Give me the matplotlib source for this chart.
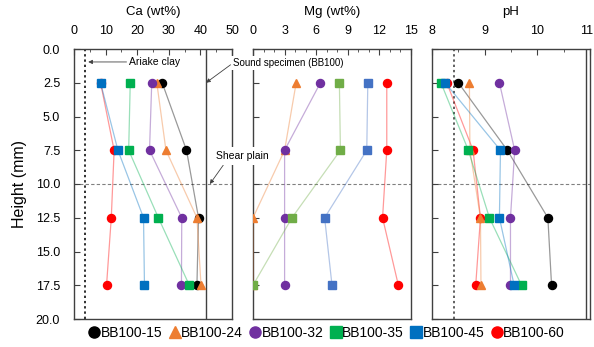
import numpy as np
import matplotlib
matplotlib.use("Agg")
import matplotlib.pyplot as plt
from matplotlib.lines import Line2D
from matplotlib.ticker import MultipleLocator, FormatStrFormatter, FuncFormatter

plt.rcParams['font.family'] = ['Liberation Sans', 'DejaVu Sans']

# depth of each slice (mm)
height = [2.5, 7.5, 12.5, 17.5]

samples = ['BB100-15', 'BB100-24', 'BB100-32', 'BB100-35', 'BB100-45', 'BB100-60']
colors = ['#000000', '#ED7D31', '#7030A0', '#00B050', '#0070C0', '#FF0000']
# the Mg panel uses a slightly different green / blue
colors_mg = ['#000000', '#ED7D31', '#7030A0', '#70AD47', '#4472C4', '#FF0000']
markers = ['o', '^', 'o', 's', 's', 'o']

# values read per sample, top to bottom
ca = {
    'BB100-15': [27.9, 35.6, 39.4, 38.9],
    'BB100-24': [26.2, 29.1, 38.9, 40.2],
    'BB100-32': [24.6, 23.9, 34.1, 34.0],
    'BB100-35': [17.8, 17.3, 26.7, 36.5],
    'BB100-45': [8.4, 13.9, 22.0, 22.3],
    'BB100-60': [8.4, 12.7, 11.8, 10.3],
}
mg = {
    'BB100-15': [np.nan, np.nan, np.nan, np.nan],
    'BB100-24': [4.1, 3.0, 0.0, 0.0],
    'BB100-32': [6.4, 3.0, 3.0, 3.0],
    'BB100-35': [8.2, 8.3, 3.7, 0.0],
    'BB100-45': [10.9, 10.8, 6.8, 7.5],
    'BB100-60': [12.7, 12.7, 12.3, 13.8],
}
ph = {
    'BB100-15': [8.50, 9.43, 10.20, 10.27],
    'BB100-24': [8.71, 8.72, 8.92, 8.93],
    'BB100-32': [9.28, 9.57, 9.49, 9.49],
    'BB100-35': [8.17, 8.69, 9.09, 9.70],
    'BB100-45': [8.25, 9.30, 9.28, 9.56],
    'BB100-60': [8.28, 8.78, 8.92, 8.83],
}

# reference lines
ariake_ca, ariake_ph = 3.5, 8.42
sound_ca, sound_ph = 41.8, 10.93
shear_plane = 10.0

W, H = 594, 347
fig = plt.figure(figsize=(W / 100, H / 100), dpi=100)

ax_w = 158 / W
ax_b = 1 - 319 / H
ax_h = (319 - 49) / H
ax_ca = fig.add_axes([74 / W, ax_b, ax_w, ax_h])
ax_mg = fig.add_axes([253 / W, ax_b, ax_w, ax_h])
ax_ph = fig.add_axes([432 / W, ax_b, ax_w, ax_h])
ax_ca.set_zorder(3)

panels = [
    (ax_ca, ca, colors, (0, 50), 10, 5, 'Ca (wt%)'),
    (ax_mg, mg, colors_mg, (0, 15), 3, 1, 'Mg (wt%)'),
    (ax_ph, ph, colors, (8, 11), 1, 0.5, 'pH'),
]
zorders = [4, 5, 6, 7, 8, 3]

for i, (ax, data, cols, xlim, major, minor, title) in enumerate(panels):
    for s, c, m, z in zip(samples, cols, markers, zorders):
        ax.plot(data[s], height, color=c, lw=0.9, alpha=0.4, zorder=z - 0.5)
        ax.plot(data[s], height, ls='none', marker=m, color=c,
                markersize=5.8 if m != 's' else 5.2, zorder=z)
    ax.set_xlim(*xlim)
    ax.set_ylim(20, 0)
    ax.xaxis.tick_top()
    ax.xaxis.set_major_locator(MultipleLocator(major))
    ax.xaxis.set_minor_locator(MultipleLocator(minor))
    ax.yaxis.set_major_locator(MultipleLocator(2.5))
    ax.tick_params(axis='x', which='both', direction='in', top=True, bottom=False,
                   labelsize=9, pad=9, color='#404040')
    ax.tick_params(axis='x', which='major', length=4)
    ax.tick_params(axis='x', which='minor', length=2.5)
    ax.tick_params(axis='y', direction='in', left=True, right=False, length=4,
                   labelsize=9, pad=10, color='#404040', labelleft=(i == 0))
    if i == 0:
        ax.yaxis.set_major_formatter(FormatStrFormatter('%.1f'))
    for sp in ax.spines.values():
        sp.set_color('#404040')
        sp.set_linewidth(1.0)
    ax.axhline(shear_plane, color='#808080', lw=0.8, ls=(0, (3, 2)), zorder=1)
    cx = ax.get_position().x0 + ax_w / 2
    fig.text(cx, 1 - 12 / H, title, ha='center', va='center', fontsize=9.5)

# the "11" label sits against the right edge, so draw it a little to the left
ax_ph.xaxis.set_major_formatter(FuncFormatter(lambda v, p: '' if v >= 11 else f'{v:g}'))
ax_ph.annotate('11', xy=(1, 1), xycoords='axes fraction', xytext=(-2.5, 9),
               textcoords='offset points', ha='center', va='bottom', fontsize=9)

ax_ca.axvline(ariake_ca, color='#303030', lw=1.4, ls=(0, (1.2, 1.5)), zorder=2)
ax_ph.axvline(ariake_ph, color='#606060', lw=1.4, ls=(0, (1.2, 1.5)), zorder=2)
ax_ca.axvline(sound_ca, color='#404040', lw=1.0, zorder=2)
ax_ph.axvline(sound_ph, color='#404040', lw=1.0, zorder=2)

ax_ca.set_ylabel('Height (mm)', fontsize=11.5, labelpad=6)

arrow = dict(arrowstyle='-|>', color='#404040', lw=0.6, mutation_scale=6,
             shrinkA=0, shrinkB=0)
ax_ca.annotate('Ariake clay', xy=(4.5, 0.96), xytext=(17.5, 0.96),
               ha='left', va='center', fontsize=7.5,
               arrowprops=dict(arrow, relpos=(0, 0.5)), zorder=10)
ax_ca.annotate('Sound specimen (BB100)', xy=(sound_ca, 2.5), xycoords='data',
               xytext=(233 / W, 1 - 63 / H), textcoords='figure fraction',
               ha='left', va='center', fontsize=7,
               bbox=dict(boxstyle='square,pad=0.25', fc='white', ec='none'),
               arrowprops=dict(arrow, relpos=(0, 0.5)), annotation_clip=False, zorder=10)
ax_ca.annotate('Shear plain', xy=(43.0, shear_plane), xycoords='data',
               xytext=(242 / W, 1 - 156 / H), textcoords='figure fraction',
               ha='center', va='center', fontsize=7.5,
               bbox=dict(boxstyle='square,pad=0.4', fc='white', ec='none'),
               arrowprops=dict(arrow, relpos=(0.2, 0)), annotation_clip=False, zorder=10)

handles = [Line2D([], [], ls='none', marker=m, color=c, markersize=8)
           for m, c in zip(markers, colors)]
fig.legend(handles, samples, loc='center', bbox_to_anchor=(0.55, 1 - 333 / H),
           ncol=6, frameon=False, fontsize=10, handlelength=0.8,
           handletextpad=0.05, columnspacing=0.5, borderpad=0)

fig.savefig('out.png', dpi=100)
